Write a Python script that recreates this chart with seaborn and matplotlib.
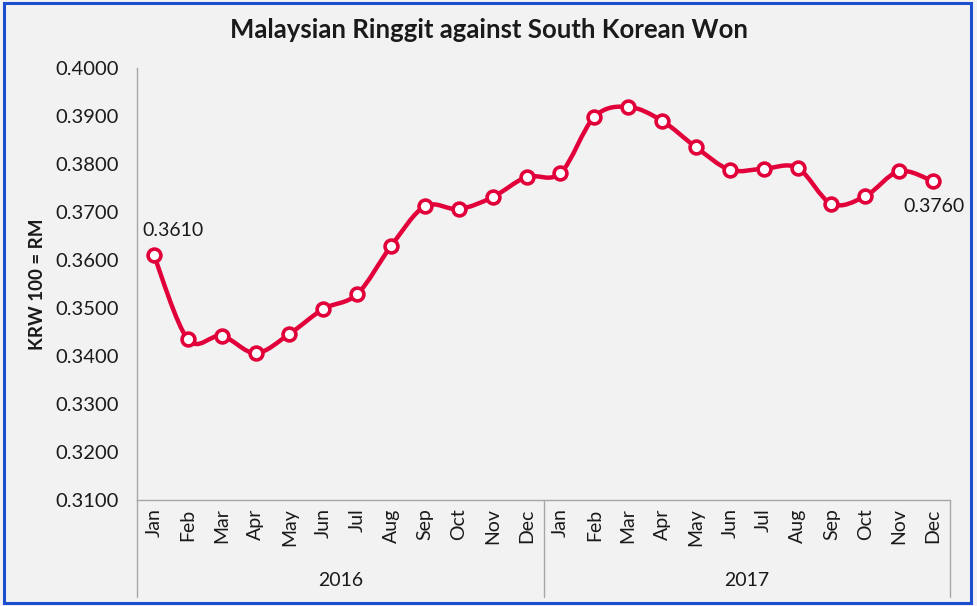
import numpy as np
import pandas as pd
import matplotlib
matplotlib.use("Agg")
import matplotlib.pyplot as plt
import seaborn as sns
from matplotlib.path import Path
from matplotlib.patches import PathPatch, Rectangle

months = ["Jan", "Feb", "Mar", "Apr", "May", "Jun", "Jul", "Aug", "Sep", "Oct", "Nov", "Dec"]
years = ["2016", "2017"]
values = [0.3610, 0.3435, 0.3442, 0.3406, 0.3446, 0.3498, 0.3529, 0.3629, 0.3712, 0.3706, 0.3731, 0.3773,
          0.3781, 0.3898, 0.3919, 0.3890, 0.3835, 0.3788, 0.3790, 0.3792, 0.3717, 0.3733, 0.3785, 0.3764]
first_label = "0.3610"
last_label = "0.3760"
yticks = [0.31, 0.32, 0.33, 0.34, 0.35, 0.36, 0.37, 0.38, 0.39, 0.40]

sns.set_style("white")
plt.rcParams["font.family"] = ["Lato", "DejaVu Sans"]

RED = "#E2003A"
BG = "#F2F2F2"
TXT = "#1a1a1a"

df = pd.DataFrame({"idx": np.arange(len(values)), "value": values,
                   "month": months * len(years)})

W, H = 977, 606
fig = plt.figure(figsize=(W / 100, H / 100), dpi=100, facecolor=BG)
ax = fig.add_axes([137 / W, 1 - 500 / H, (950 - 137) / W, (500 - 68) / H])
ax.set_facecolor(BG)

# smooth line (Catmull-Rom -> cubic Bezier) through data points
x = df["idx"].to_numpy(float)
y = df["value"].to_numpy(float)
verts = [(x[0], y[0])]
codes = [Path.MOVETO]
n = len(x)
for i in range(n - 1):
    p0 = np.array([x[max(i - 1, 0)], y[max(i - 1, 0)]])
    p1 = np.array([x[i], y[i]])
    p2 = np.array([x[i + 1], y[i + 1]])
    p3 = np.array([x[min(i + 2, n - 1)], y[min(i + 2, n - 1)]])
    c1 = p1 + (p2 - p0) / 6.0
    c2 = p2 - (p3 - p1) / 6.0
    verts += [tuple(c1), tuple(c2), tuple(p2)]
    codes += [Path.CURVE4] * 3
ax.add_patch(PathPatch(Path(verts, codes), facecolor="none", edgecolor=RED, lw=3.2,
                       capstyle="round", joinstyle="round", zorder=3))

sns.scatterplot(data=df, x="idx", y="value", ax=ax, s=85, color="white",
                edgecolor=RED, linewidth=2.6, zorder=4, legend=False)

ax.set_xlim(-0.5, len(values) - 0.5)
ax.set_ylim(0.31, 0.40)
ax.set_yticks(yticks)
ax.set_yticklabels([f"{v:.4f}" for v in yticks])
ax.tick_params(axis="y", which="major", length=5, color="#A6A6A6", width=1,
               labelsize=14.5, labelcolor=TXT, pad=8)

# x axis: boundary ticks and month labels
ax.set_xticks(np.arange(-0.5, len(values), 1.0))
ax.set_xticklabels([])
ax.tick_params(axis="x", which="major", length=41, color="#A6A6A6", width=1)
ax.set_xticks(np.arange(len(values)), minor=True)
ax.set_xticklabels(months * len(years), minor=True, rotation=90, fontsize=14, color=TXT)
ax.tick_params(axis="x", which="minor", length=0, pad=6)

for s in ["top", "right"]:
    ax.spines[s].set_visible(False)
for s in ["left", "bottom"]:
    ax.spines[s].set_color("#A6A6A6")
    ax.spines[s].set_linewidth(1)

# year group separators and labels
trans = ax.get_xaxis_transform()
axis_h_px = 500 - 68
for b in [-0.5, 11.5, 23.5]:
    ax.plot([b, b], [0, -(597 - 500) / axis_h_px], transform=trans, color="#A6A6A6",
            lw=1, clip_on=False)
for k, yr in enumerate(years):
    ax.text(k * 12 + 5.5, -(580 - 500) / axis_h_px, yr, transform=trans,
            ha="center", va="center", fontsize=14, color=TXT)

ax.set_xlabel("")
ax.set_ylabel("KRW 100 = RM", fontsize=13.5, fontweight="bold", color=TXT)
ax.yaxis.set_label_coords(-(137 - 46) / (950 - 137), 0.5)

ax.annotate(first_label, (x[0], y[0]), xytext=(-8, 12), textcoords="offset points",
            ha="left", va="bottom", fontsize=14, color=TXT)
ax.annotate(last_label, (x[-1], y[-1]), xytext=(1, -12), textcoords="offset points",
            ha="center", va="top", fontsize=14, color=TXT)

fig.text(0.5, 1 - 30 / H, "Malaysian Ringgit against South Korean Won", ha="center",
         va="center", fontsize=18.5, fontweight="bold", color=TXT)

fig.patches.append(Rectangle((4 / W, 3 / H), (971 - 4) / W, (603 - 3) / H,
                             transform=fig.transFigure, fill=False, edgecolor="#1D4ED0",
                             lw=2.2, zorder=10))

fig.savefig("out.png", dpi=100, facecolor=BG)
